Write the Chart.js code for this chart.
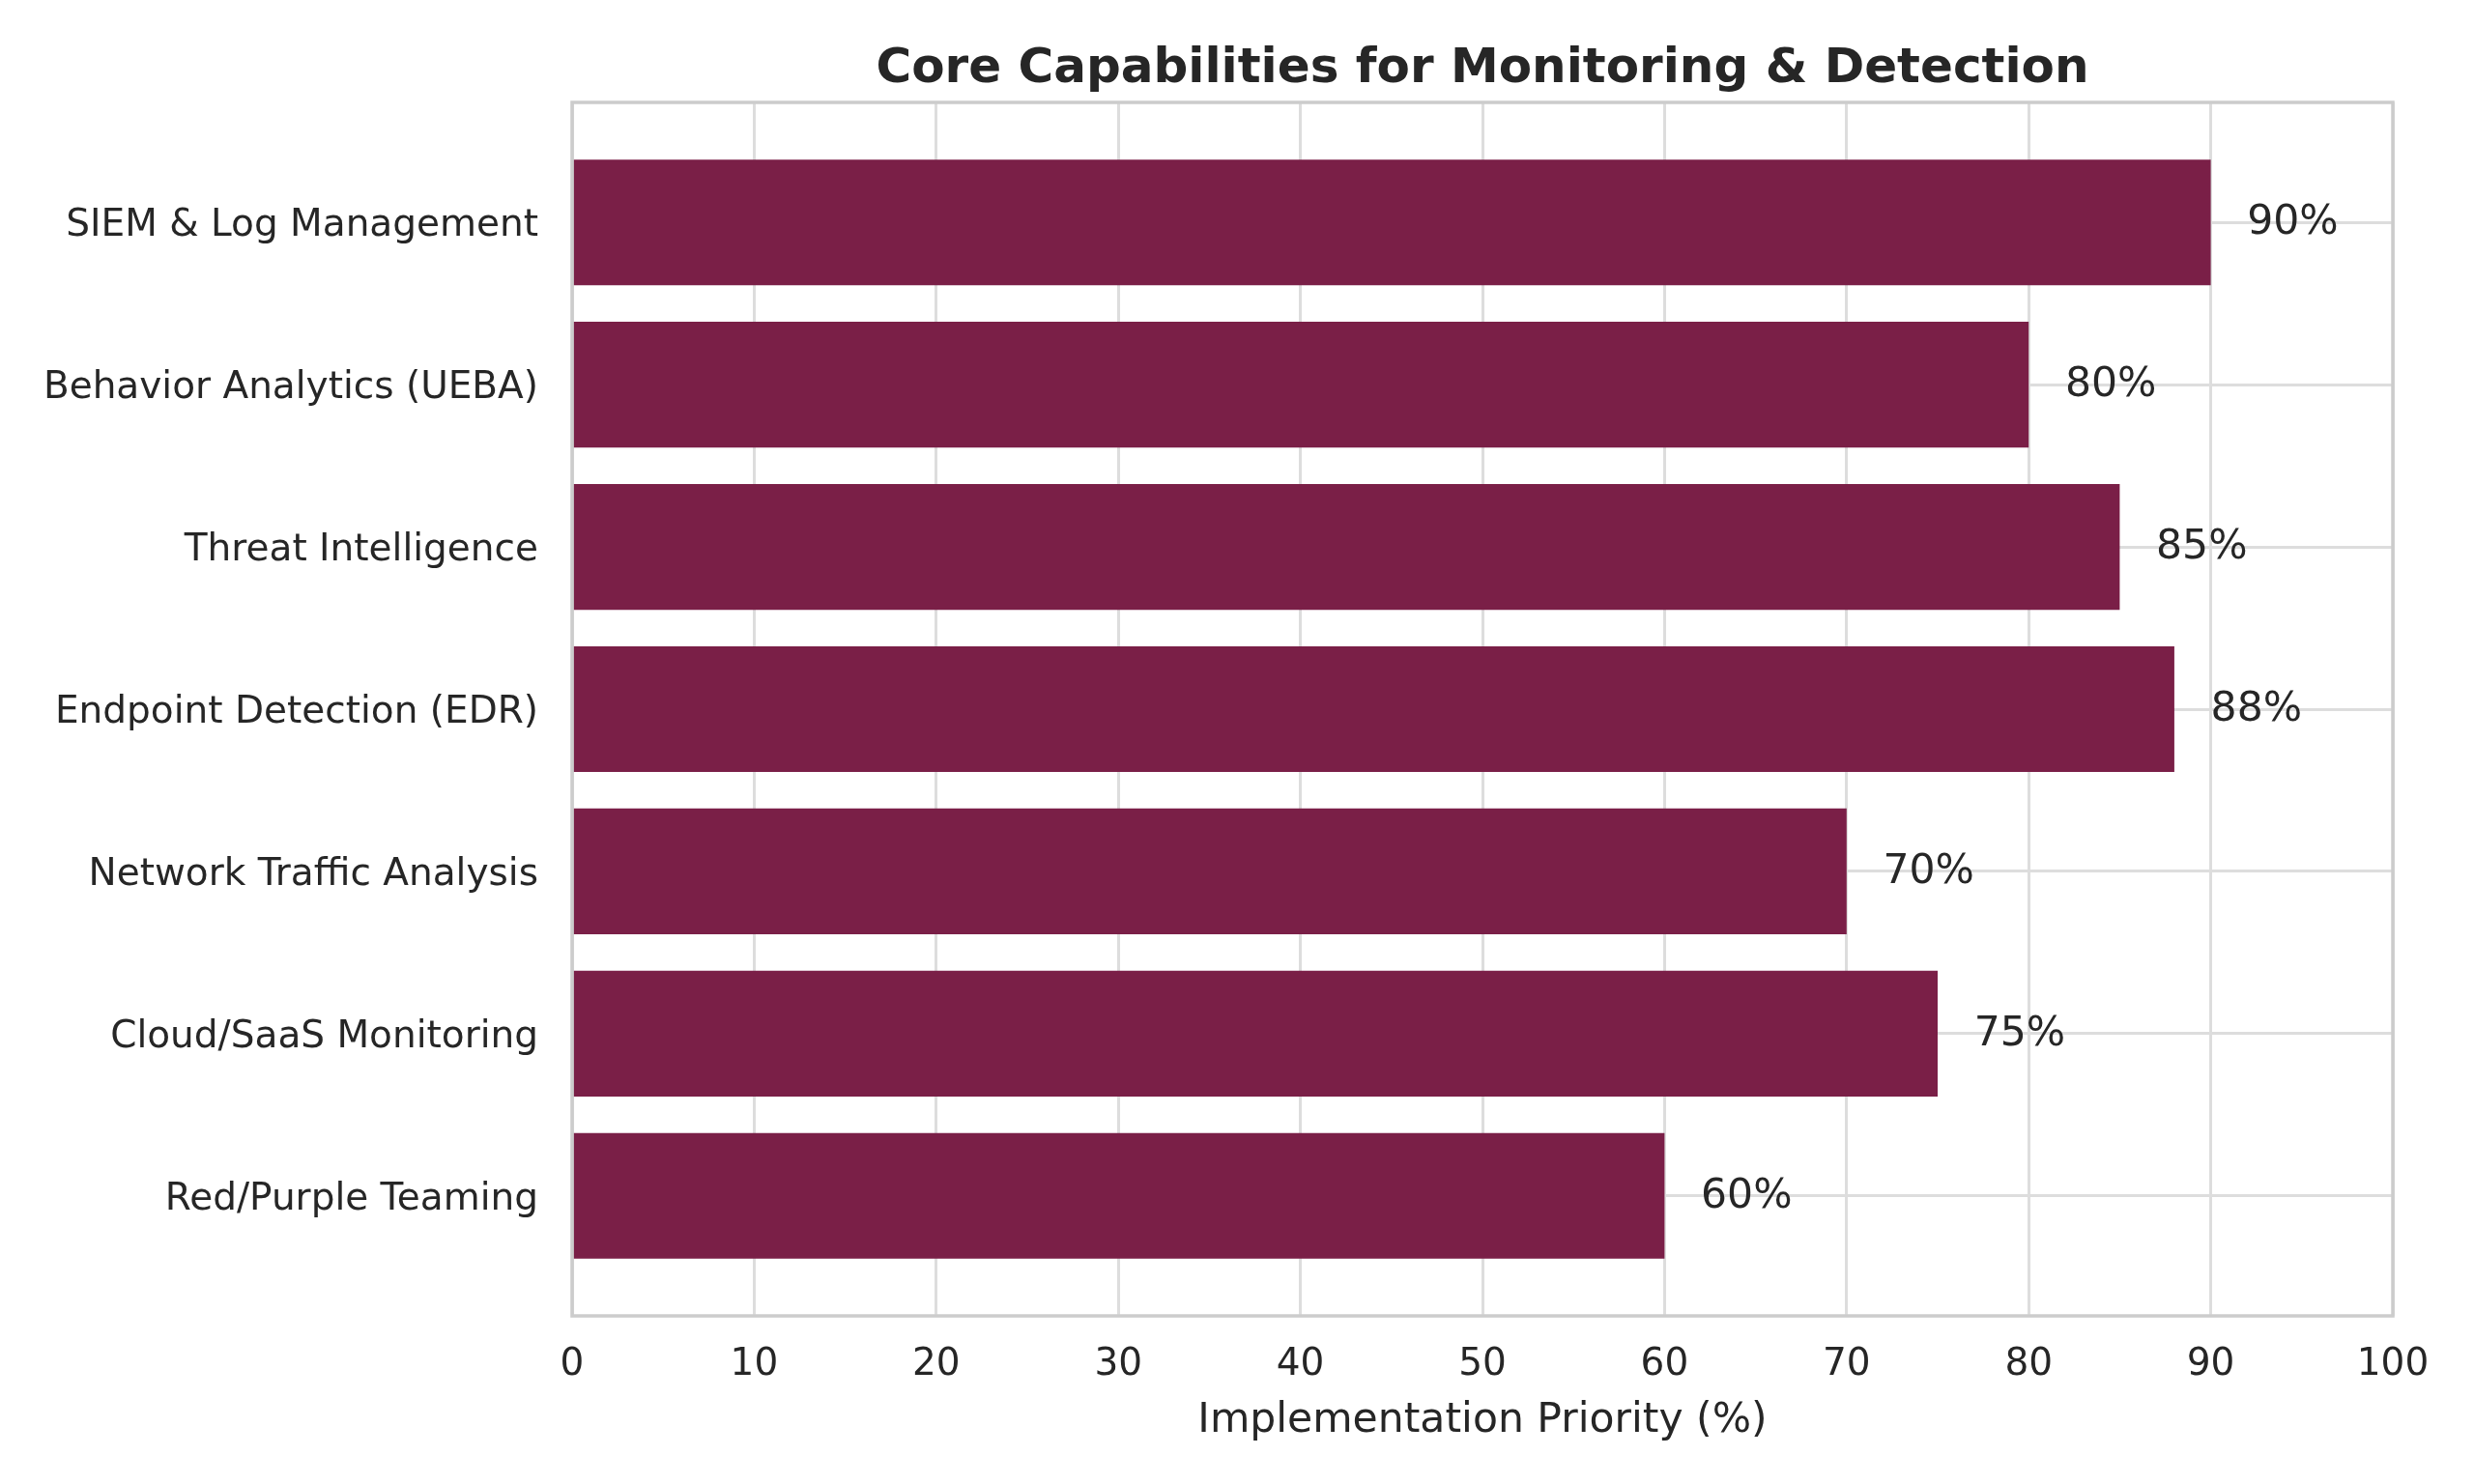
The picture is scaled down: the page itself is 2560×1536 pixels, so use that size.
<!DOCTYPE html>
<html>
<head>
<meta charset="utf-8">
<title>Core Capabilities for Monitoring & Detection</title>
<script src="https://cdn.jsdelivr.net/npm/chart.js@4.4.1/dist/chart.umd.min.js"></script>
<style>
  html, body { margin: 0; padding: 0; background: #ffffff; }
  canvas { display: block; }
</style>
</head>
<body>
<canvas id="capabilityChart" width="2560" height="1536"></canvas>
<script>
const categories = [
  'SIEM & Log Management',
  'Behavior Analytics (UEBA)',
  'Threat Intelligence',
  'Endpoint Detection (EDR)',
  'Network Traffic Analysis',
  'Cloud/SaaS Monitoring',
  'Red/Purple Teaming'
];
const priorities = [90, 80, 85, 88, 70, 75, 60];
const xTicks = [0, 10, 20, 30, 40, 50, 60, 70, 80, 90, 100];

const FONT = 'DejaVu Sans';
const TEXT = '#262626';
const BAR = '#7a1f47';
const GRID = '#dddddd';
const FRAME = '#cccccc';

// value labels + full frame around the plot, drawn over the bars
const labelsAndFrame = {
  id: 'labelsAndFrame',
  afterDatasetsDraw(chart) {
    const ctx = chart.ctx;
    const x = chart.scales.x;
    const meta = chart.getDatasetMeta(0);
    ctx.save();
    ctx.font = '42.5px "' + FONT + '"';
    ctx.fillStyle = TEXT;
    ctx.textAlign = 'left';
    ctx.textBaseline = 'middle';
    meta.data.forEach((bar, i) => {
      ctx.fillText(priorities[i] + '%', x.getPixelForValue(priorities[i] + 2), bar.y + 1);
    });
    const a = chart.chartArea;
    ctx.strokeStyle = FRAME;
    ctx.lineWidth = 3.5;
    ctx.strokeRect(a.left, a.top, a.right - a.left, a.bottom - a.top);
    ctx.restore();
  }
};

const ctx = document.getElementById('capabilityChart').getContext('2d');
new Chart(ctx, {
  type: 'bar',
  data: {
    datasets: [{
      label: 'Implementation Priority (%)',
      data: priorities.map((v, i) => ({ x: v, y: i })),
      backgroundColor: BAR,
      borderWidth: 0,
      categoryPercentage: 1.0,
      barPercentage: 0.775
    }]
  },
  options: {
    indexAxis: 'y',
    responsive: false,
    devicePixelRatio: 1,
    animation: false,
    layout: { padding: { left: 0, right: 84, top: 0, bottom: 0 } },
    scales: {
      x: {
        type: 'linear',
        min: 0,
        max: 100,
        afterBuildTicks: (scale) => { scale.ticks = xTicks.map(v => ({ value: v })); },
        afterFit: (scale) => { scale.height = 174; },
        ticks: { font: { family: FONT, size: 39 }, color: TEXT, padding: 27 },
        grid: { color: GRID, lineWidth: 3, drawTicks: false },
        border: { display: false },
        title: {
          display: true,
          text: 'Implementation Priority (%)',
          font: { family: FONT, size: 42.5 },
          color: TEXT,
          padding: { top: 0, bottom: 40 }
        }
      },
      y: {
        type: 'linear',
        reverse: true,
        offset: false,
        min: -0.74,
        max: 6.74,
        afterBuildTicks: (scale) => { scale.ticks = categories.map((c, i) => ({ value: i })); },
        afterFit: (scale) => { scale.width = 592; },
        ticks: {
          font: { family: FONT, size: 39 },
          color: TEXT,
          padding: 35,
          labelOffset: 4,
          callback: (v) => categories[v]
        },
        grid: { color: GRID, lineWidth: 3, drawTicks: false, offset: false },
        border: { display: false }
      }
    },
    plugins: {
      legend: { display: false },
      tooltip: { enabled: false },
      title: {
        display: true,
        fullSize: false,
        text: 'Core Capabilities for Monitoring & Detection',
        font: { family: FONT, size: 50, weight: 'bold' },
        color: TEXT,
        padding: { top: 42, bottom: 4 }
      }
    }
  },
  plugins: [labelsAndFrame]
});
</script>
</body>
</html>
